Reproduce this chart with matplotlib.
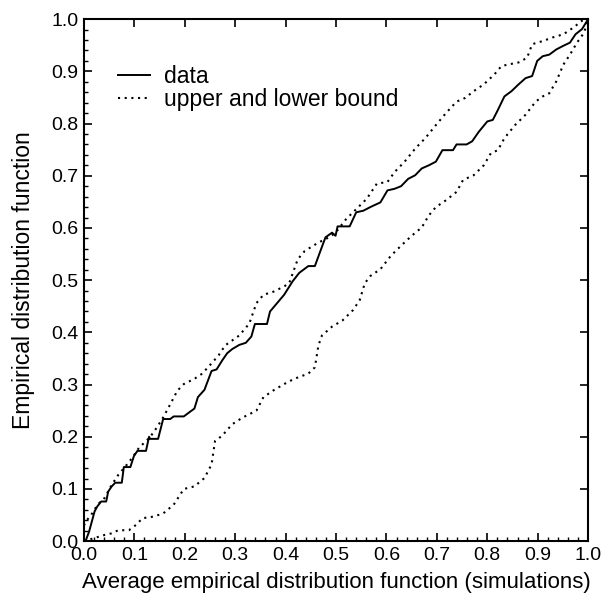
import numpy as np
import matplotlib
matplotlib.use("Agg")
import matplotlib.pyplot as plt
from matplotlib.ticker import MultipleLocator

plt.rcParams["font.family"] = ["Liberation Sans", "DejaVu Sans"]

# observed data (step-like empirical CDF)
data_x = [0.0, 0.003, 0.010, 0.021, 0.026, 0.034, 0.044, 0.048, 0.055, 0.062, 0.075,
          0.079, 0.092, 0.099, 0.106, 0.123, 0.129, 0.131, 0.147, 0.157, 0.171, 0.178,
          0.198, 0.209, 0.219, 0.226, 0.239, 0.253, 0.263, 0.274, 0.284, 0.294, 0.308,
          0.321, 0.332, 0.339, 0.363, 0.369, 0.383, 0.397, 0.414, 0.427, 0.445, 0.458,
          0.469, 0.479, 0.492, 0.499, 0.503, 0.527, 0.540, 0.554, 0.568, 0.588, 0.602,
          0.616, 0.629, 0.643, 0.657, 0.670, 0.684, 0.698, 0.711, 0.732, 0.739, 0.759,
          0.770, 0.783, 0.800, 0.811, 0.821, 0.834, 0.848, 0.862, 0.876, 0.889, 0.899,
          0.910, 0.923, 0.937, 0.951, 0.964, 0.975, 0.988, 1.0]
data_y = [0.0, 0.0, 0.018, 0.057, 0.066, 0.076, 0.076, 0.095, 0.105, 0.112, 0.112,
          0.142, 0.142, 0.163, 0.173, 0.173, 0.200, 0.196, 0.196, 0.234, 0.234, 0.239,
          0.239, 0.247, 0.254, 0.276, 0.290, 0.326, 0.329, 0.346, 0.360, 0.368, 0.376,
          0.380, 0.392, 0.416, 0.416, 0.440, 0.456, 0.472, 0.498, 0.514, 0.527, 0.527,
          0.556, 0.582, 0.591, 0.585, 0.603, 0.603, 0.630, 0.633, 0.640, 0.649, 0.672,
          0.675, 0.680, 0.694, 0.701, 0.714, 0.720, 0.727, 0.749, 0.749, 0.760, 0.760,
          0.766, 0.784, 0.804, 0.807, 0.826, 0.852, 0.862, 0.875, 0.887, 0.891, 0.920,
          0.929, 0.932, 0.942, 0.949, 0.955, 0.971, 0.981, 1.0]

# upper bound from simulations
upper_x = [0.0, 0.003, 0.014, 0.027, 0.041, 0.055, 0.068, 0.082, 0.096, 0.109, 0.130,
           0.144, 0.157, 0.171, 0.185, 0.198, 0.219, 0.233, 0.246, 0.267, 0.280, 0.308,
           0.328, 0.342, 0.356, 0.376, 0.397, 0.407, 0.424, 0.438, 0.465, 0.486, 0.499,
           0.520, 0.540, 0.561, 0.581, 0.602, 0.616, 0.636, 0.657, 0.677, 0.698, 0.718,
           0.739, 0.756, 0.773, 0.793, 0.814, 0.828, 0.841, 0.862, 0.879, 0.889, 0.910,
           0.930, 0.951, 0.971, 0.988, 1.0]
upper_y = [0.030, 0.037, 0.050, 0.070, 0.083, 0.108, 0.127, 0.143, 0.160, 0.179, 0.198,
           0.217, 0.237, 0.262, 0.288, 0.301, 0.311, 0.320, 0.333, 0.356, 0.375, 0.394,
           0.417, 0.456, 0.472, 0.478, 0.488, 0.494, 0.540, 0.556, 0.572, 0.582, 0.591,
           0.617, 0.636, 0.656, 0.685, 0.688, 0.707, 0.727, 0.752, 0.772, 0.797, 0.820,
           0.842, 0.849, 0.862, 0.875, 0.894, 0.910, 0.913, 0.917, 0.926, 0.952, 0.958,
           0.965, 0.971, 0.984, 0.997, 1.0]

# lower bound from simulations
lower_x = [0.0, 0.041, 0.055, 0.068, 0.089, 0.103, 0.116, 0.137, 0.157, 0.178, 0.198,
           0.219, 0.239, 0.253, 0.260, 0.274, 0.294, 0.315, 0.342, 0.356, 0.376, 0.397,
           0.417, 0.445, 0.458, 0.465, 0.472, 0.492, 0.513, 0.534, 0.547, 0.557, 0.568,
           0.588, 0.609, 0.629, 0.650, 0.670, 0.684, 0.698, 0.718, 0.739, 0.752, 0.773,
           0.793, 0.807, 0.821, 0.834, 0.855, 0.876, 0.896, 0.910, 0.923, 0.937, 0.951,
           0.964, 0.978, 0.992, 1.0]
lower_y = [0.0, 0.012, 0.015, 0.021, 0.021, 0.031, 0.044, 0.047, 0.053, 0.070, 0.100,
           0.105, 0.121, 0.147, 0.192, 0.202, 0.224, 0.237, 0.250, 0.276, 0.289, 0.301,
           0.311, 0.321, 0.333, 0.375, 0.394, 0.411, 0.423, 0.443, 0.462, 0.494, 0.508,
           0.521, 0.547, 0.566, 0.585, 0.601, 0.624, 0.640, 0.653, 0.669, 0.692, 0.701,
           0.720, 0.743, 0.749, 0.772, 0.797, 0.817, 0.842, 0.852, 0.858, 0.881, 0.913,
           0.932, 0.955, 0.974, 1.0]

fig = plt.figure(figsize=(6.03, 5.98), dpi=100)
ax = fig.add_axes([0.1393, 0.095, 0.836, 0.873])

dot = (0, (1, 2.2))
ax.plot(data_x, data_y, color="black", lw=1.4, label="data")
ax.plot(upper_x, upper_y, color="black", lw=1.5, ls=dot, label="upper and lower bound")
ax.plot(lower_x, lower_y, color="black", lw=1.5, ls=dot)

ax.set_xlim(0, 1)
ax.set_ylim(0, 1)
ax.xaxis.set_major_locator(MultipleLocator(0.1))
ax.yaxis.set_major_locator(MultipleLocator(0.1))
ax.xaxis.set_minor_locator(MultipleLocator(0.02))
ax.yaxis.set_minor_locator(MultipleLocator(0.02))
ax.tick_params(which="major", direction="in", length=6, width=1.2,
               top=True, right=True, labelsize=14, pad=4)
ax.tick_params(which="minor", direction="in", length=3, width=1.0,
               top=False, right=False)
for s in ax.spines.values():
    s.set_linewidth(1.5)

ax.set_xlabel("Average empirical distribution function (simulations)", fontsize=16, labelpad=6)
ax.set_ylabel("Empirical distribution function", fontsize=16.5, labelpad=12)

ax.legend(loc="upper left", bbox_to_anchor=(0.05, 0.93), frameon=False, fontsize=16.5,
          handlelength=1.4, handletextpad=0.6, labelspacing=0.0, borderaxespad=0)

fig.savefig("out.png", dpi=100)
